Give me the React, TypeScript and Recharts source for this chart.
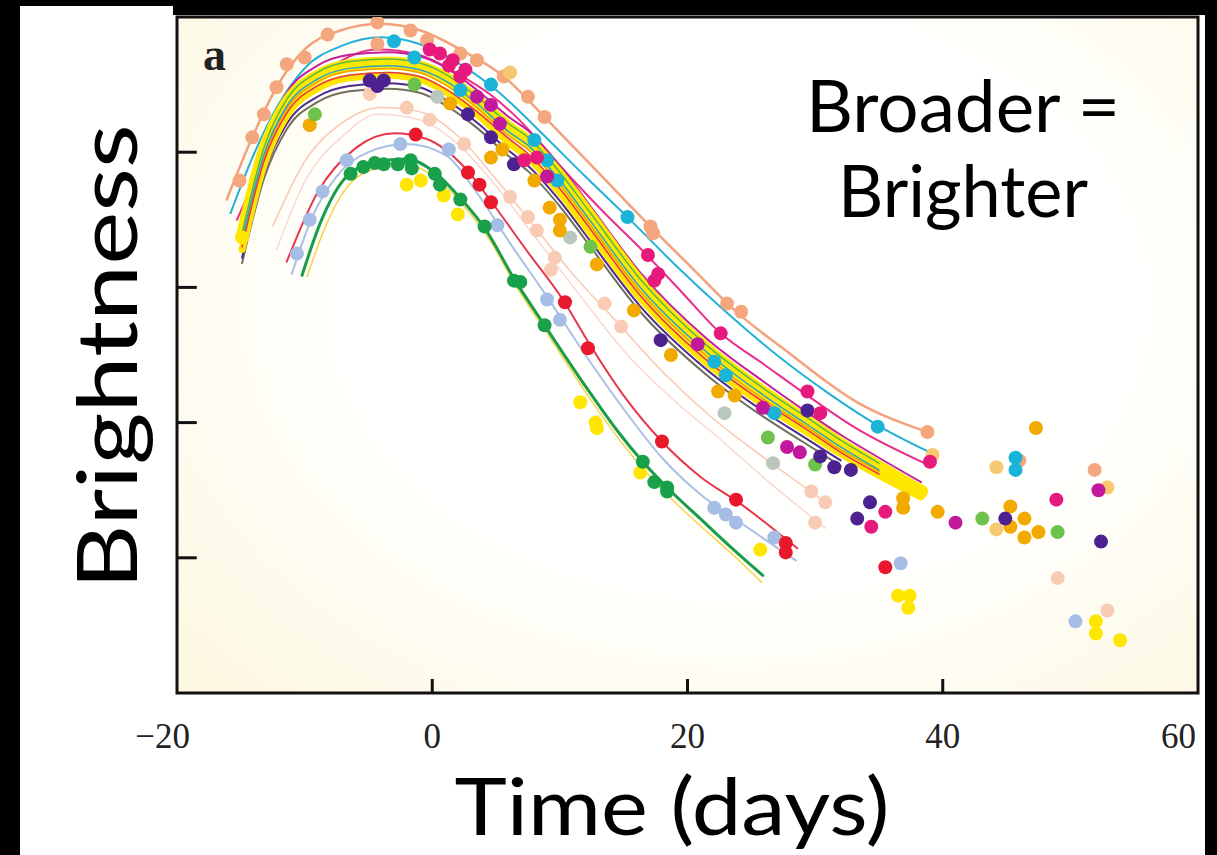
import React from "react";
import { ComposedChart, Line, Scatter, XAxis, YAxis, ReferenceArea, ReferenceLine } from "recharts";

type Pair = [number, number];

const xTicks = [-20, 0, 20, 40, 60];
const yTicks = [1, 2, 3, 4];
const innerXTicks = [0, 20, 40];

// fitted light curves, [day, brightness]
const salmonFit: Pair[] = [
  [-16.1, 3.65], [-14.1, 4.11], [-12.2, 4.48], [-10, 4.76], [-7.2, 4.9], [-4.1, 4.95], [-0.9, 4.9],
  [2.2, 4.76], [5.6, 4.56], [8.8, 4.26], [13, 3.85], [17.1, 3.45], [20.5, 3.13], [23.7, 2.83],
  [27.6, 2.54], [33.3, 2.15], [38.8, 1.93],
];
const cyanFit: Pair[] = [
  [-15.8, 3.55], [-14, 3.98], [-12, 4.36], [-10, 4.62], [-7, 4.79], [-4, 4.85], [-1, 4.8], [2, 4.66],
  [5, 4.46], [8.8, 4.12], [12, 3.82], [15.3, 3.52], [19, 3.17], [23, 2.82], [27, 2.5], [31, 2.22],
  [34.9, 1.98], [39, 1.78],
];
const pinkFit: Pair[] = [
  [-15.3, 3.5], [-13, 3.98], [-11, 4.33], [-8, 4.62], [-4.3, 4.76], [-1, 4.72], [2, 4.58], [4.5, 4.43],
  [6.7, 4.25], [10, 3.9], [13.5, 3.55], [16.6, 3.26], [19.5, 2.97], [22.6, 2.66], [26, 2.43],
  [29.4, 2.2], [33, 1.97], [38.8, 1.69],
];

// the tight bundle of curves around the thick yellow one
const bundleDays = [-14.9, -13.2, -11.4, -9, -6.5, -3.5, -1, 1, 3.5, 6, 7.5, 10, 12.4, 16.3, 21.4, 26, 29, 32, 35, 38.3];
const yellowBand = [3.37, 4.0, 4.36, 4.56, 4.64, 4.66, 4.63, 4.55, 4.38, 4.18, 4.08, 3.82, 3.52, 3.03, 2.55, 2.22, 2.03, 1.84, 1.67, 1.49];
const yellowInner = [3.28, 3.9, 4.27, 4.47, 4.55, 4.57, 4.54, 4.45, 4.28, 4.07, 3.96, 3.7, 3.4, 2.92, 2.45, 2.13, 1.95, 1.77, 1.61, 1.45];
const orangeBand = [3.33, 3.96, 4.32, 4.52, 4.6, 4.62, 4.59, 4.5, 4.33, 4.12, 4.02, 3.76, 3.46, 2.97, 2.5, 2.17, 1.99, 1.8, 1.64, null];
const greenBand = [3.4, 4.03, 4.39, 4.59, 4.67, 4.69, 4.66, 4.58, 4.41, 4.21, 4.11, 3.85, 3.55, 3.06, 2.58, 2.25, 2.06, 1.87, 1.7, null];
const purpleBand = [3.22, 3.84, 4.21, 4.41, 4.49, 4.51, 4.48, 4.39, 4.22, 4.01, 3.9, 3.64, 3.34, 2.86, 2.4, 2.08, 1.9, 1.72, null, null];
const tealBand = [3.35, 3.98, 4.34, 4.54, 4.62, 4.64, 4.61, 4.53, 4.36, 4.15, 4.05, 3.79, 3.49, 3.0, 2.53, 2.2, 2.01, 1.82, 1.65, null];
const redBand = [3.3, 3.93, 4.29, 4.49, 4.57, 4.59, 4.56, 4.47, 4.3, 4.1, 3.99, 3.73, 3.43, 2.94, 2.47, 2.15, 1.97, 1.78, 1.62, null];
const grayBand = [3.18, 3.8, 4.17, 4.37, 4.45, 4.47, 4.44, 4.35, 4.18, 3.97, 3.86, 3.6, 3.3, 2.82, 2.36, 2.04, 1.86, 1.68, null, null];
const magentaBand = [3.45, 4.08, 4.44, 4.64, 4.72, 4.74, 4.71, 4.63, 4.46, 4.26, 4.16, 3.9, 3.6, 3.11, 2.63, 2.3, 2.1, 1.91, 1.74, 1.56];

const peachFit: Pair[] = [
  [-12.5, 3.45], [-10, 3.93], [-7, 4.22], [-4, 4.33], [-1, 4.3], [2, 4.12], [5, 3.8], [8, 3.45],
  [11, 3.1], [14.5, 2.74], [18, 2.38], [22, 2.03], [26, 1.74], [30.7, 1.42],
];
const faintPinkFit: Pair[] = [
  [-12.2, 3.28], [-10, 3.78], [-7, 4.12], [-4.3, 4.28], [-1, 4.24], [2, 4.06], [5, 3.75], [8, 3.38],
  [11.5, 2.95], [15.3, 2.5], [19, 2.16], [22.4, 1.89], [26.5, 1.55], [30.8, 1.22],
];
const redFit: Pair[] = [
  [-11.4, 3.19], [-9, 3.7], [-6, 4.03], [-3, 4.14], [-0.5, 4.1], [2.7, 3.87], [4.5, 3.65], [7.5, 3.26],
  [10.3, 2.9], [12.2, 2.6], [15, 2.2], [18, 1.86], [21, 1.6], [24, 1.41], [28.6, 1.07],
];
const lightBlueFit: Pair[] = [
  [-11, 3.1], [-9.5, 3.5], [-7.5, 3.82], [-5, 4.0], [-2, 4.06], [1, 3.98], [3.5, 3.7], [6, 3.34],
  [9, 2.93], [12, 2.5], [15, 2.1], [18, 1.74], [21, 1.47], [24, 1.27], [28.5, 0.98],
];
const greenFit: Pair[] = [
  [-10.2, 3.09], [-8.8, 3.47], [-6.9, 3.8], [-4.5, 3.93], [-2, 3.95], [0.2, 3.85], [2.2, 3.66],
  [4.1, 3.44], [6.5, 3.05], [8.8, 2.72], [12, 2.27], [14.5, 1.94], [16.5, 1.71], [18.4, 1.52],
  [21, 1.29], [23.5, 1.07], [25.9, 0.87],
];
const yellowLowFit: Pair[] = [
  [-9.8, 3.08], [-8.5, 3.42], [-6.6, 3.75], [-4.3, 3.88], [-1.8, 3.9], [0.4, 3.8], [2.4, 3.61],
  [4.3, 3.38], [6.7, 2.99], [9, 2.66], [12.2, 2.2], [14.7, 1.87], [16.7, 1.64], [18.6, 1.45],
  [21.2, 1.22], [23.7, 1.01], [25.8, 0.82],
];

// observed points
const salmonObs: Pair[] = [
  [-15.1, 3.79], [-14.1, 4.11], [-13.2, 4.28], [-12.2, 4.48], [-11.4, 4.65], [-10, 4.7], [-8.2, 4.87],
  [-4.3, 4.96], [-4.3, 4.8], [-1.7, 4.9], [-0.4, 4.83], [2.2, 4.73], [3.5, 4.68], [5.6, 4.56],
  [7.5, 4.41], [8.8, 4.26], [17.1, 3.45], [17.3, 3.4], [23.1, 2.88], [24.2, 2.82], [38.8, 1.93],
  [46, 1.72], [51.9, 1.65],
];
const peachObs: Pair[] = [
  [-4.9, 4.43], [-2, 4.33], [-0.2, 4.24], [2.5, 4.06], [6.1, 3.67], [7.5, 3.52], [8.2, 3.42],
  [9.6, 3.22], [9.3, 3.13], [13.5, 2.88], [14.8, 2.71], [29.7, 1.49], [30.8, 1.41], [30, 1.26],
  [49, 0.85], [52.9, 0.61],
];
const redObs: Pair[] = [
  [-1.3, 4.13], [2.8, 3.85], [3.7, 3.76], [4.6, 3.63], [10.4, 2.89], [12.2, 2.55], [18, 1.86],
  [23.8, 1.43], [27.7, 1.11], [27.7, 1.04], [35.5, 0.93],
];
const lightBlueObs: Pair[] = [
  [-10.6, 3.25], [-9.6, 3.5], [-8.6, 3.71], [-6.7, 3.94], [-2.5, 4.06], [1.3, 4.02], [5.1, 3.46],
  [9, 2.91], [10, 2.76], [22.1, 1.37], [23, 1.32], [23.8, 1.26], [26.8, 1.15], [36.7, 0.96], [50.4, 0.53],
];
const greenObs: Pair[] = [
  [-6.4, 3.84], [-5.4, 3.89], [-4.5, 3.92], [-3.8, 3.91], [-2.7, 3.91], [-1.7, 3.94], [-1.6, 3.88],
  [0.2, 3.84], [0.6, 3.76], [2.2, 3.65], [4.1, 3.45], [6.4, 3.05], [6.9, 3.04], [8.8, 2.72],
  [16.5, 1.71], [17.4, 1.56], [18.4, 1.52], [18.4, 1.49],
];
const yellowObs: Pair[] = [
  [-14.9, 3.37], [-2, 3.76], [-0.9, 3.79], [0.9, 3.68], [2, 3.54], [11.6, 2.15], [12.8, 2.0],
  [12.9, 1.96], [16.3, 1.63], [25.7, 1.06], [38.3, 1.49], [36.5, 0.72], [37.4, 0.72], [37.3, 0.63],
  [52, 0.53], [52, 0.44], [53.9, 0.39],
];
const purpleObs: Pair[] = [
  [-4.9, 4.53], [-3.8, 4.53], [-4.3, 4.49], [2.8, 4.28], [4.6, 4.11], [6.4, 3.91], [17.9, 2.61],
  [29.4, 2.09], [30.4, 1.75], [31.5, 1.67], [32.8, 1.65], [33.3, 1.29], [34.3, 1.41], [44.9, 1.29],
  [52.4, 1.12],
];
const hotPinkObs: Pair[] = [
  [-0.2, 4.76], [0.6, 4.73], [1.3, 4.64], [1.6, 4.68], [2.6, 4.61], [2.2, 4.56], [7.2, 3.94],
  [8.2, 3.96], [16.9, 3.24], [17.7, 3.1], [17.4, 3.05], [22.6, 2.66], [29.4, 2.23], [30.4, 2.07],
  [39, 1.71], [35.5, 1.34], [34.4, 1.23], [48.9, 1.43],
];
const magentaObs: Pair[] = [
  [3.5, 4.41], [4.6, 4.35], [5.3, 4.21], [9, 3.82], [20.8, 2.58], [25.9, 2.11], [27.8, 1.82],
  [28.8, 1.78], [41, 1.26], [52.2, 1.5],
];
const cyanObs: Pair[] = [
  [-3, 4.82], [-1.4, 4.7], [2.2, 4.46], [4.6, 4.5], [8, 4.09], [9, 3.94], [9.8, 3.79], [15.3, 3.52],
  [22.1, 2.45], [23, 2.35], [26.8, 2.07], [34.9, 1.97], [45.7, 1.74], [45.7, 1.65],
];
const orangeObs: Pair[] = [
  [-9.6, 4.2], [1.4, 4.36], [4.6, 3.96], [5.5, 4.02], [8, 3.79], [9.2, 3.59], [10, 3.5], [10, 3.42],
  [12.9, 3.17], [15.8, 2.83], [18.7, 2.5], [22.4, 2.23], [23.7, 2.2], [36.9, 1.44], [36.9, 1.37],
  [39.6, 1.34], [45.3, 1.38], [46.4, 1.29], [45.3, 1.23], [46.4, 1.15], [47.5, 1.19], [47.3, 1.96],
];
const lightOrangeObs: Pair[] = [[6.1, 4.59], [39.2, 1.76], [44.2, 1.67], [44.2, 1.21], [52.9, 1.52]];
const limeObs: Pair[] = [[-9.2, 4.28], [-1.4, 4.5], [12.4, 3.3], [26.3, 1.89], [30, 1.69], [43.1, 1.29], [49, 1.19]];
const grayObs: Pair[] = [[0.4, 4.41], [10.8, 3.37], [22.9, 2.07], [26.7, 1.7]];

const toPoints = (pairs: Pair[]) => pairs.map(([x, y]) => ({ x, y }));
const fromBundle = (ys: (number | null)[]) => bundleDays.map((x, i) => ({ x, y: ys[i] }));

const fits = [
  { key: "faintPink", data: toPoints(faintPinkFit), color: "#f9d8d4", width: 1.5 },
  { key: "peach", data: toPoints(peachFit), color: "#f8c8b0", width: 1.5 },
  { key: "salmon", data: toPoints(salmonFit), color: "#f2a27c", width: 2.5 },
  { key: "cyan", data: toPoints(cyanFit), color: "#22b0d8", width: 2 },
  { key: "pink", data: toPoints(pinkFit), color: "#ea2d8c", width: 2 },
  { key: "grayBand", data: fromBundle(grayBand), color: "#6f6f60", width: 2 },
  { key: "purpleBand", data: fromBundle(purpleBand), color: "#4d2a8e", width: 2 },
  { key: "magentaBand", data: fromBundle(magentaBand), color: "#c4209a", width: 2 },
  { key: "yellowBand", data: fromBundle(yellowBand), color: "#ffe800", width: 13 },
  { key: "yellowInner", data: fromBundle(yellowInner), color: "#ffe400", width: 7 },
  { key: "orangeBand", data: fromBundle(orangeBand), color: "#f0a000", width: 1.5 },
  { key: "redBand", data: fromBundle(redBand), color: "#e8374a", width: 1.5 },
  { key: "tealBand", data: fromBundle(tealBand), color: "#2aa6c2", width: 1.5 },
  { key: "greenBand", data: fromBundle(greenBand), color: "#58b947", width: 1.5 },
  { key: "red", data: toPoints(redFit), color: "#e8364f", width: 2 },
  { key: "lightBlue", data: toPoints(lightBlueFit), color: "#a9c0e6", width: 2 },
  { key: "yellowLow", data: toPoints(yellowLowFit), color: "#f5d54a", width: 1.5 },
  { key: "green", data: toPoints(greenFit), color: "#1a9d48", width: 3 },
];

const observations = [
  { key: "peach", data: toPoints(peachObs), color: "#f9cbb4" },
  { key: "gray", data: toPoints(grayObs), color: "#bac7bd" },
  { key: "salmon", data: toPoints(salmonObs), color: "#f4a67f" },
  { key: "lightOrange", data: toPoints(lightOrangeObs), color: "#f7c870" },
  { key: "orange", data: toPoints(orangeObs), color: "#f2a900" },
  { key: "lime", data: toPoints(limeObs), color: "#6cc24a" },
  { key: "cyan", data: toPoints(cyanObs), color: "#1ab4d8" },
  { key: "purple", data: toPoints(purpleObs), color: "#4b2290" },
  { key: "magenta", data: toPoints(magentaObs), color: "#c2189c" },
  { key: "hotPink", data: toPoints(hotPinkObs), color: "#e6197d" },
  { key: "lightBlue", data: toPoints(lightBlueObs), color: "#a6bde6" },
  { key: "yellow", data: toPoints(yellowObs), color: "#ffe600" },
  { key: "red", data: toPoints(redObs), color: "#e8192c" },
  { key: "green", data: toPoints(greenObs), color: "#19a04a" },
];

const CHART_W = 1217;
const CHART_H = 855;
const MARGIN = { top: 17, right: 19, bottom: 162, left: 177 };
const PLOT_BOTTOM = CHART_H - MARGIN.bottom;
const PLOT_W = CHART_W - MARGIN.left - MARGIN.right;
const X_MIN = -20;
const X_MAX = 60;

function TimeTick(props: any) {
  const { x, payload } = props;
  const v = payload.value;
  const label = v < 0 ? `\u2212${Math.abs(v)}` : String(v);
  let tx = x;
  let anchor = "middle";
  if (v === -20) { tx = x + 13; anchor = "end"; }
  if (v === 60) { tx = x - 2; anchor = "end"; }
  return (
    <text x={tx} y={748} textAnchor={anchor} fontFamily="Liberation Serif" fontSize={35} fill="#222">
      {label}
    </text>
  );
}

function ObsDot(props: any) {
  const { cx, cy, fill } = props;
  if (cx == null || cy == null) return null;
  return <circle cx={cx} cy={cy} r={7} fill={fill} />;
}

export default function App() {
  return (
    <div style={{ position: "absolute", left: 0, top: 0, width: CHART_W, height: CHART_H, background: "#000", overflow: "hidden" }}>
      <div style={{ position: "absolute", left: 20, top: 6, width: 153, height: 849, background: "#fff" }} />
      <div style={{ position: "absolute", left: 173, top: 15, width: 1032, height: 840, background: "#fff" }} />
      <div
        style={{
          position: "absolute", left: 177, top: 17, width: 1021, height: 676,
          background: "radial-gradient(ellipse 72% 80% at 55% 42%, #ffffff 0%, #fffffd 55%, #fdf8e2 100%)",
        }}
      />
      <div style={{ position: "absolute", left: 0, top: 0 }}>
        <ComposedChart width={CHART_W} height={CHART_H} margin={MARGIN}>
          <XAxis
            dataKey="x" type="number" domain={[X_MIN, X_MAX]} ticks={xTicks} interval={0} height={30} mirror
            allowDataOverflow axisLine={false} tickLine={false} tick={<TimeTick />}
          />
          <YAxis
            dataKey="y" type="number" domain={[0, 5]} ticks={yTicks} interval={0} width={40} mirror
            allowDataOverflow axisLine={false} tickLine={false} tick={false}
          />
          <ReferenceArea x1={X_MIN} x2={X_MAX} y1={0} y2={5} fill="none" stroke="#111" strokeWidth={3} ifOverflow="visible" />
          {yTicks.map((t) => (
            <ReferenceLine
              key={`yt${t}`} segment={[{ x: -20, y: t }, { x: -18.45, y: t }]} stroke="#111" strokeWidth={3} ifOverflow="visible"
            />
          ))}
          {fits.map((f) => (
            <Line
              key={f.key} data={f.data} dataKey="y" type="monotone" stroke={f.color} strokeWidth={f.width}
              strokeLinecap="round" dot={false} activeDot={false} isAnimationActive={false}
            />
          ))}
          {observations.map((o) => (
            <Scatter key={o.key} data={o.data} fill={o.color} shape={<ObsDot />} isAnimationActive={false} />
          ))}
        </ComposedChart>
      </div>
      <svg width={CHART_W} height={CHART_H} style={{ position: "absolute", left: 0, top: 0, pointerEvents: "none" }}>
        {innerXTicks.map((t) => {
          const tx = MARGIN.left + ((t - X_MIN) / (X_MAX - X_MIN)) * PLOT_W;
          return <line key={t} x1={tx} x2={tx} y1={PLOT_BOTTOM} y2={PLOT_BOTTOM - 14} stroke="#111" strokeWidth={3} />;
        })}
        <text x={203} y={70} fontFamily="Liberation Serif" fontWeight="bold" fontSize={46} fill="#222">a</text>
        <text
          transform="translate(137 357) rotate(-90)" textAnchor="middle" fontFamily="Lato" fontSize={84}
          textLength={465} lengthAdjust="spacingAndGlyphs" fill="#000"
        >
          Brightness
        </text>
        <text
          x={672} y={835} textAnchor="middle" fontFamily="Lato" fontSize={80}
          textLength={435} lengthAdjust="spacingAndGlyphs" fill="#000"
        >
          Time (days)
        </text>
        <text x={806} y={132} fontFamily="Lato" fontSize={72} textLength={314} lengthAdjust="spacingAndGlyphs" fill="#000">
          Broader =
        </text>
        <text x={838} y={217} fontFamily="Lato" fontSize={72} textLength={250} lengthAdjust="spacingAndGlyphs" fill="#000">
          Brighter
        </text>
      </svg>
    </div>
  );
}
